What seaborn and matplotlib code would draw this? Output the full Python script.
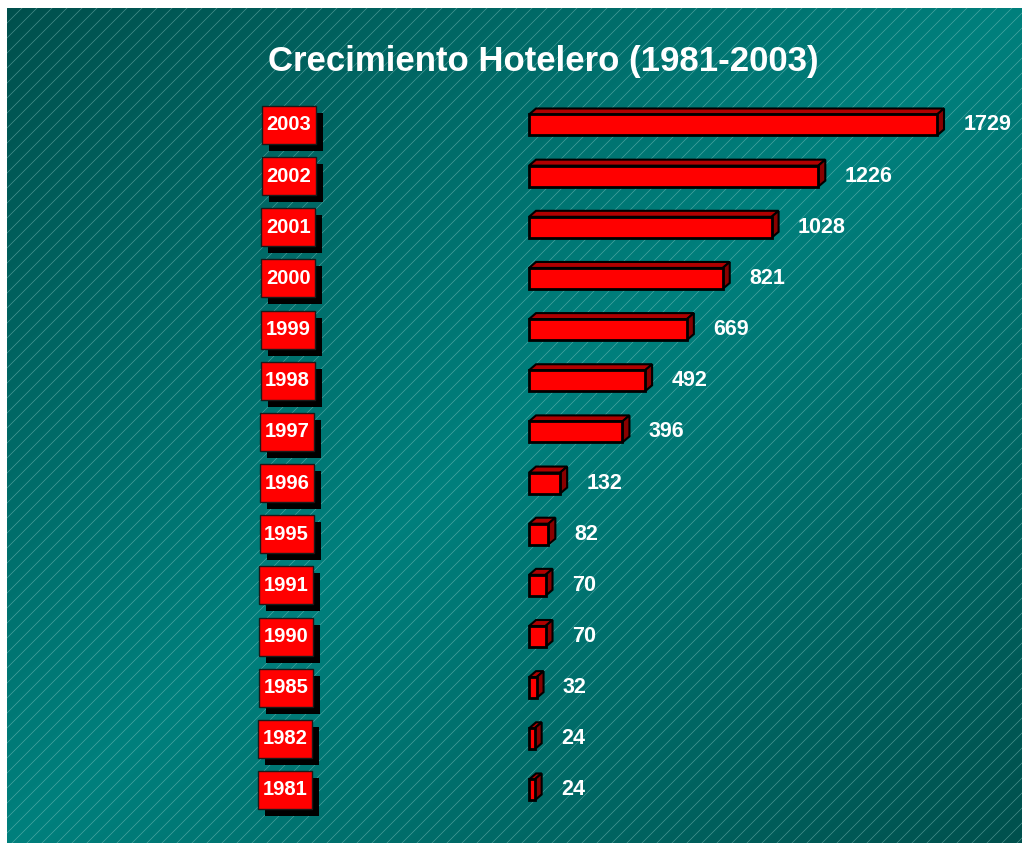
import matplotlib.pyplot as plt
import seaborn as sns
import numpy as np
import pandas as pd
from matplotlib.patches import Polygon, Rectangle

# data
years = ['2003', '2002', '2001', '2000', '1999', '1998', '1997',
         '1996', '1995', '1991', '1990', '1985', '1982', '1981']
hoteles = [1729, 1226, 1028, 821, 669, 492, 396, 132, 82, 70, 70, 32, 24, 24]
titulo = 'Crecimiento Hotelero (1981-2003)'

df = pd.DataFrame({'year': years, 'hoteles': hoteles})

W, H = 1026, 846
fig = plt.figure(figsize=(W / 100, H / 100), dpi=100)
fig.patch.set_facecolor('white')

# background panel: teal gradient + thin diagonal lines
bg = fig.add_axes([0, 0, 1, 1])
bg.set_xlim(0, W)
bg.set_ylim(H, 0)
bg.axis('off')
xx, yy = np.meshgrid(np.linspace(0, 1, 400), np.linspace(0, 1, 400))
t = 1 - np.abs(xx + yy - 1)
dark = np.array([0x00, 0x50, 0x4d]) / 255
light = np.array([0x00, 0x80, 0x7d]) / 255
img = dark + (light - dark) * t[..., None]
bg.imshow(img, extent=[7, 1022, 843, 8], aspect='auto', zorder=0)
clip = Rectangle((7, 8), 1015, 835, transform=bg.transData, visible=False)
bg.add_patch(clip)
for c in np.arange(15, 1022 + 843, 15):
    ln, = bg.plot([c - 843, c - 8], [843, 8], color='#9fd6d2', lw=0.5,
                  alpha=0.45, zorder=1)
    ln.set_clip_path(clip)

# main axes, scaled so value 0 sits at x=529px and 1729 at 937px
ax = fig.add_axes([0, 0, 1, 1])
ax.patch.set_alpha(0)
sx = (937 - 529) / 1729.0   # px per unit
sy = 51.15                  # px per row
sns.barplot(data=df, y='year', x='hoteles', orient='h', color='#ff0000',
            saturation=1, edgecolor='black', linewidth=2, width=21 / sy,
            ax=ax, zorder=5)
ax.set_xlim(-529 / sx, (W - 529) / sx)
ax.set_ylim((H - 125) / sy, -125 / sy)
ax.axis('off')

# 3d look: top and side faces
dx, dy = 7 / sx, 6 / sy
for p in ax.patches[:len(years)]:
    x0, y0, w, h = p.get_x(), p.get_y(), p.get_width(), p.get_height()
    top = [(x0, y0), (x0 + w, y0), (x0 + w + dx, y0 - dy), (x0 + dx, y0 - dy)]
    side = [(x0 + w, y0), (x0 + w + dx, y0 - dy),
            (x0 + w + dx, y0 + h - dy), (x0 + w, y0 + h)]
    ax.add_patch(Polygon(top, closed=True, fc='#b00000', ec='black', lw=1.5, zorder=4))
    ax.add_patch(Polygon(side, closed=True, fc='#8a0000', ec='black', lw=1.5, zorder=4))

# value labels
for i, v in enumerate(hoteles):
    ax.annotate(str(v), (v + dx, i), xytext=(14, 0),
                textcoords='offset points', ha='left', va='center',
                color='white', fontsize=15.5, fontweight='bold',
                family='Liberation Sans', zorder=6)

# year boxes on the left
bw, bh = 54 / sx, 38 / sy
for i, y in enumerate(years):
    cx = (289 - i * 0.3 - 529) / sx
    ax.add_patch(Rectangle((cx - bw / 2 + 7 / sx, i - bh / 2 + 7 / sy), bw, bh,
                           fc='black', ec='none', zorder=3))
    ax.add_patch(Rectangle((cx - bw / 2, i - bh / 2), bw, bh,
                           fc='#ff0000', ec='#1a1a1a', lw=1, zorder=4))
    ax.text(cx, i, y, ha='center', va='center', color='white',
            fontsize=14.5, fontweight='bold', family='Liberation Sans', zorder=6)

fig.text(543 / W, 1 - 61 / H, titulo, ha='center', va='center', color='white',
         fontsize=25, fontweight='bold', family='Liberation Sans')

fig.savefig('out.png', dpi=100)
